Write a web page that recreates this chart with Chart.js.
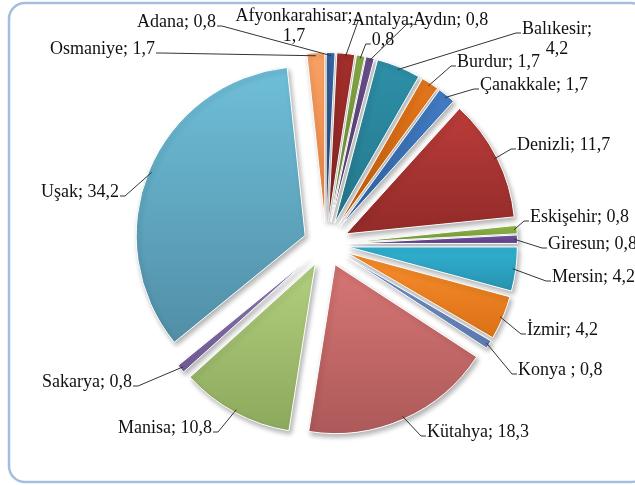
<!DOCTYPE html>
<html>
<head>
<meta charset="utf-8">
<script src="https://cdn.jsdelivr.net/npm/chart.js@4/dist/chart.umd.min.js"></script>
<style>
  html, body { margin: 0; padding: 0; background: #fff; }
  canvas { display: block; }
</style>
</head>
<body>
<canvas id="pie" width="635" height="485"></canvas>
<script>
// cities and their share (%)
var cities = ["Adana", "Afyonkarahisar", "Antalya", "Aydın", "Balıkesir", "Burdur", "Çanakkale",
    "Denizli", "Eskişehir", "Giresun", "Mersin", "İzmir", "Konya ", "Kütahya", "Manisa",
    "Sakarya", "Uşak", "Osmaniye"];
var shares = [0.8, 1.7, 0.8, 0.8, 4.2, 1.7, 1.7, 11.7, 0.8, 0.8, 4.2, 4.2, 0.8, 18.3, 10.8, 0.8, 34.2, 1.7];

// gradient colours, top then bottom
var colorsTop = ["#3A6DB0", "#A8302D", "#8CB04A", "#6E5290", "#2E93AC", "#E87A20", "#4580C8",
    "#BE3E3B", "#95BE4C", "#7A58A8", "#30B0D0", "#F58B2A", "#7895CC", "#D27272", "#AECB7B",
    "#8C76B0", "#70C0DA", "#FAA56A"];
var colorsBottom = ["#2A5590", "#8A2624", "#6E8E35", "#553F73", "#267A8F", "#C8600A", "#3366A8",
    "#952C2A", "#7AA03A", "#60448A", "#2690AC", "#D86E14", "#5A78B0", "#A85656", "#88A458",
    "#6E5A92", "#5290A8", "#EE8A48"];

// label placement: x (left, or centre when wrapped), baseline y, side the leader meets
var labelPlace = [
    {x: 137, y: 27, side: "R"},
    {x: 294, y: 21, side: "R", wrap: true, line: 0},
    {x: 383, y: 25, side: "L", wrap: true, line: 1},
    {x: 413, y: 25, side: "L"},
    {x: 557, y: 34, side: "L", wrap: true, line: 0},
    {x: 457, y: 67, side: "L"},
    {x: 480, y: 90, side: "L"},
    {x: 517, y: 150, side: "L"},
    {x: 530, y: 222, side: "L"},
    {x: 548, y: 249, side: "L"},
    {x: 552, y: 282, side: "L"},
    {x: 527, y: 335, side: "L"},
    {x: 518, y: 375, side: "L"},
    {x: 427, y: 437, side: "L"},
    {x: 118, y: 433, side: "R"},
    {x: 42, y: 387, side: "R"},
    {x: 41, y: 197, side: "R"},
    {x: 50, y: 54, side: "R"}
];

var RADIUS = 169;
var EXPLODE = 22.5;
var LABEL_FONT = "18px 'Liberation Serif', 'Times New Roman', serif";

function fmt(v) {
    return String(v).replace(".", ",");
}

var total = shares.reduce(function (a, b) { return a + b; }, 0);

function sliceFill(context) {
    var i = context.dataIndex;
    var chart = context.chart;
    var area = chart.chartArea;
    if (!area) return colorsTop[i];
    var cx = (area.left + area.right) / 2, cy = (area.top + area.bottom) / 2;
    var before = 0;
    for (var k = 0; k < i; k++) before += shares[k];
    var a1 = before / total * Math.PI * 2;
    var a2 = (before + shares[i]) / total * Math.PI * 2;
    var mid = (a1 + a2) / 2;
    var ex = cx + Math.sin(mid) * EXPLODE, ey = cy - Math.cos(mid) * EXPLODE;
    var yMin = ey, yMax = ey;
    for (var s = 0; s <= 40; s++) {
        var a = a1 + (a2 - a1) * s / 40;
        var y = ey - Math.cos(a) * RADIUS;
        yMin = Math.min(yMin, y);
        yMax = Math.max(yMax, y);
    }
    var g = chart.ctx.createLinearGradient(0, yMin, 0, yMax);
    g.addColorStop(0, colorsTop[i]);
    g.addColorStop(1, colorsBottom[i]);
    return g;
}

// rounded frame around the chart
var framePlugin = {
    id: "frame",
    beforeDraw: function (chart) {
        var c = chart.ctx;
        c.save();
        c.strokeStyle = "#A4BEE0";
        c.lineWidth = 2.5;
        c.beginPath();
        c.roundRect(9, 3, 638, 479, 16);
        c.stroke();
        c.restore();
    }
};

// pull every slice out from the centre and give them a soft shadow
var explodePlugin = {
    id: "explode",
    beforeDatasetsDraw: function (chart) {
        var meta = chart.getDatasetMeta(0);
        meta.data.forEach(function (el) {
            if (el._exploded) return;
            var orig = el.draw;
            el.draw = function (c) {
                var mid = (this.startAngle + this.endAngle) / 2;
                c.save();
                c.translate(Math.cos(mid) * EXPLODE, Math.sin(mid) * EXPLODE);
                orig.call(this, c);
                c.restore();
            };
            el._exploded = true;
        });
        var c = chart.ctx;
        c.save();
        c.shadowColor = "rgba(0,0,0,0.30)";
        c.shadowBlur = 5;
        c.shadowOffsetX = 2;
        c.shadowOffsetY = 3;
    },
    afterDatasetsDraw: function (chart) {
        chart.ctx.restore();
    }
};

// data labels with leader lines
var labelPlugin = {
    id: "leaderLabels",
    afterDatasetsDraw: function (chart) {
        var c = chart.ctx;
        var meta = chart.getDatasetMeta(0);
        c.save();
        c.font = LABEL_FONT;
        c.fillStyle = "#111";
        c.strokeStyle = "#333";
        c.lineWidth = 1;
        c.textBaseline = "alphabetic";
        meta.data.forEach(function (el, i) {
            var p = labelPlace[i];
            var lines = p.wrap ? [cities[i] + ";", fmt(shares[i])] : [cities[i] + "; " + fmt(shares[i])];
            var lh = 20;
            var ends = [];
            lines.forEach(function (t, li) {
                var w = c.measureText(t).width;
                var left = p.wrap ? p.x - w / 2 : p.x;
                var base = p.y + li * lh;
                c.fillText(t, left, base);
                ends.push({left: left, right: left + w, base: base});
            });
            var ln = ends[p.line || 0];
            var mid = (el.startAngle + el.endAngle) / 2;
            var r = EXPLODE + el.outerRadius - 3;
            var ax = el.x + Math.cos(mid) * r, ay = el.y + Math.sin(mid) * r;
            var tx, ex;
            if (p.side === "L") { tx = ln.left - 1; ex = ln.left - 6; }
            else { tx = ln.right + 1; ex = ln.right + 6; }
            var ty = ln.base - 1;
            c.beginPath();
            c.moveTo(ax, ay);
            c.lineTo(ex, ty);
            c.lineTo(tx, ty);
            c.stroke();
        });
        c.restore();
    }
};

new Chart(document.getElementById("pie").getContext("2d"), {
    type: "pie",
    data: {
        labels: cities,
        datasets: [{
            data: shares,
            backgroundColor: sliceFill,
            borderColor: "#fff",
            borderWidth: 1,
            radius: RADIUS
        }]
    },
    options: {
        responsive: false,
        devicePixelRatio: 1,
        animation: false,
        events: [],
        layout: { padding: { left: 17, right: 0, top: 3, bottom: 0 } },
        plugins: {
            legend: { display: false },
            tooltip: { enabled: false }
        }
    },
    plugins: [framePlugin, explodePlugin, labelPlugin]
});
</script>
</body>
</html>
